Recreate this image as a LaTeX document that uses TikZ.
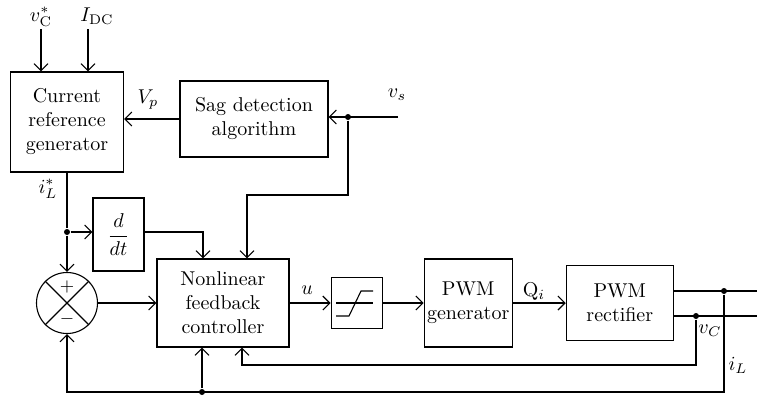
\documentclass[tikz,border=0pt]{standalone}
\usetikzlibrary{positioning}
\usetikzlibrary{arrows.meta}

\begin{document}
\begin{tikzpicture}[x=0.5pt,y=-0.5pt,line width=0.55pt,
  block/.style={rectangle,draw,align=center,inner sep=1pt},
  arr/.style={-{Straight Barb[length=3.5pt,width=7pt]}},
  junc/.style={circle,fill,inner sep=0pt,minimum size=3pt}]

\useasboundingbox (0,0) rectangle (757,398);

% Blocks
\node[block,minimum width=56.5pt,minimum height=50pt] (crg) at (67,122) {Current\\reference\\generator};

\node[block,minimum width=74pt,minimum height=38pt] (sag) at (254,119) {Sag detection\\algorithm};

\node[block,minimum width=25.5pt,minimum height=36.5pt] (ddt) at (118.5,234.5) {$\displaystyle\frac{d}{dt}$};

\node[draw,circle,minimum size=30.5pt,inner sep=0pt] (sum) at (67,303) {};

\node[block,minimum width=66pt,minimum height=44pt] (nfc) at (223,303) {Nonlinear\\feedback\\controller};

\node[right=20.5pt of nfc, block,minimum width=25.5pt,minimum height=25.5pt] (sat) {};

\node[right=20.5pt of sat, block,minimum width=44pt,minimum height=44pt] (pwmg) {PWM\\generator};

\node[right=26.5pt of pwmg, block,minimum width=53.5pt,minimum height=37.5pt] (rect) {PWM\\rectifier};

% Summing junction
\draw (sum.north west) -- (sum.south east);
\draw (sum.north east) -- (sum.south west);
\node[font=\small] (plus) at (67,287) {$+$};
\node[font=\small] (minus) at (67,319) {$-$};

% Saturation
\draw (336,303) -- (373,303);
\draw (336,316) -- (349,316) -- (361,291) -- (373,291);

% Labels
\node (vcref) at (41,17) {$v_\mathrm{C}^*$};
\node (idc) at (97,16) {$I_\mathrm{DC}$};
\node (vp) at (148,100) {$V_p$};
\node (vs) at (397,95) {$v_s$};
\node (ilref) at (48,189) {$i_L^*$};
\node (u) at (307,290) {$u$};
\node (qi) at (534,292) {$\mathrm{Q}_i$};
\node (vc) at (710,331) {$v_C$};
\node (il) at (738,365) {$i_L$};

% Junctions and ends
\coordinate (vcin) at (41,29);
\coordinate (idcin) at (88,29);
\coordinate (vsin) at (398,117);
\node[junc] (vsdot) at (348,117) {};
\coordinate (bend) at (348,195);
\node[junc] (idot) at (67,232) {};
\coordinate (outa) at (757,291);
\coordinate (outb) at (757,316);
\node[junc] (ildot) at (724,291) {};
\node[junc] (vcdot) at (696,316) {};
\coordinate (ilbot) at (724,392);
\coordinate (vcbot) at (696,365);
\node[junc] (fbdot) at (202,392) {};

% Connectors
\draw[arr] (vcin) -- (vcin |- crg.north);
\draw[arr] (idcin) -- (idcin |- crg.north);
\draw[arr] (sag.west) -- (sag.west -| crg.east);
\draw[arr] (vsin) -- (sag.east |- vsin);
\draw[arr] (vsdot) -- (bend) -| ([xshift=12pt]nfc.north);

\draw (crg.south) -- (idot);
\draw[arr] (idot) -- (sum.north);
\draw[arr] (idot) -- (idot -| ddt.west);
\draw[arr] (ddt.east |- idot) -| ([xshift=-10pt]nfc.north);

\draw[arr] (sum.east) -- (nfc.west);
\draw[arr] (nfc.east) -- (sat.west);
\draw[arr] (sat.east) -- (pwmg.west);
\draw[arr] (pwmg.east) -- (rect.west);

\draw (rect.east |- outa) -- (outa);
\draw (rect.east |- outb) -- (outb);

\draw[arr] (ildot) -- (ilbot) -- (ilbot -| sum.south) -- (sum.south);
\draw[arr] (fbdot) -- (fbdot |- nfc.south);
\draw[arr] (vcdot) -- (vcbot) -| ([xshift=9.5pt]nfc.south);

\end{tikzpicture}
\end{document}
